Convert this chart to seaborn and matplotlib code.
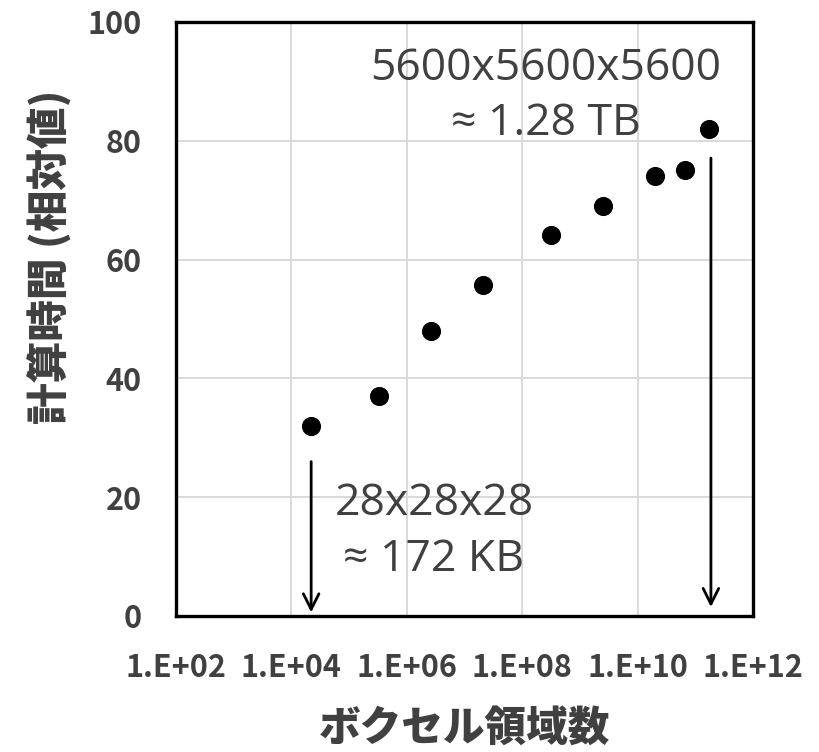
import numpy as np
import pandas as pd
import matplotlib
matplotlib.use("Agg")
import matplotlib.pyplot as plt
import seaborn as sns

# data
voxels = [2.2e4, 3.3e5, 2.6e6, 2.1e7, 3.1e8, 2.5e9, 2.0e10, 6.5e10, 1.76e11]
time_rel = [32, 37, 48, 55.7, 64.2, 69, 74, 75.1, 82]
x_ticks = [1e2, 1e4, 1e6, 1e8, 1e10, 1e12]
x_ticklabels = ["1.E+02", "1.E+04", "1.E+06", "1.E+08", "1.E+10", "1.E+12"]
y_ticks = [0, 20, 40, 60, 80, 100]
xlabel = "ボクセル領域数"
ylabel = "計算時間 (相対値)"
ann_small = "28x28x28\n≈ 172 KB"
ann_large = "5600x5600x5600\n≈ 1.28 TB"

df = pd.DataFrame({"voxels": voxels, "time": time_rel})

sns.set_theme(style="white")
plt.rcParams['font.family'] = ['Noto Sans CJK JP', 'DejaVu Sans']

GRAY = "#404040"
fig = plt.figure(figsize=(8.19, 7.52), dpi=100)
ax = fig.add_axes([176/819, 1-616/752, (753-176)/819, (616-22)/752])

sns.scatterplot(data=df, x="voxels", y="time", ax=ax, color="black", s=190,
                edgecolor="black", linewidth=0, zorder=3)
ax.set_xscale("log")
ax.set_xlim(1e2, 1e12)
ax.set_ylim(0, 100)
ax.set_xticks(x_ticks)
ax.set_xticklabels(x_ticklabels)
ax.minorticks_off()
ax.set_yticks(y_ticks)
ax.grid(True, color="#d9d9d9", linewidth=1.4, zorder=0)
ax.set_axisbelow(True)

for sp in ax.spines.values():
    sp.set_color("black")
    sp.set_linewidth(2.4)

ax.tick_params(axis="both", direction="in", length=7, width=2, color="black",
               labelsize=22, labelcolor=GRAY)
ax.tick_params(axis="x", pad=26)
ax.tick_params(axis="y", pad=24.5)
for lab in ax.get_xticklabels() + ax.get_yticklabels():
    lab.set_fontweight("bold")

ax.set_xlabel(xlabel, fontsize=30, fontweight="heavy", color=GRAY, labelpad=17)
ax.set_ylabel(ylabel, fontsize=30, fontweight="heavy", color=GRAY)
ax.yaxis.set_label_coords(-0.18, 0.604)

txt_family = ['Open Sans', 'DejaVu Sans']
# small annotation with arrow
ax.annotate("", xy=(voxels[0], 0.6), xytext=(voxels[0], 26),
            arrowprops=dict(arrowstyle="->", color="black", lw=2, mutation_scale=28,
                            shrinkA=0, shrinkB=0))
ax.text(2.95e6, 14.2, ann_small, ha="center", va="center", fontsize=32,
        color=GRAY, family=txt_family, linespacing=1.33)
# large annotation with arrow
ax.annotate("", xy=(voxels[-1] * 1.06, 1.5), xytext=(voxels[-1] * 1.06, 77.1),
            arrowprops=dict(arrowstyle="->", color="black", lw=2, mutation_scale=28,
                            shrinkA=0, shrinkB=0))
ax.text(2.57e8, 87.5, ann_large, ha="center", va="center", fontsize=32,
        color=GRAY, family=txt_family, linespacing=1.3)

fig.savefig("out.png", dpi=100)
